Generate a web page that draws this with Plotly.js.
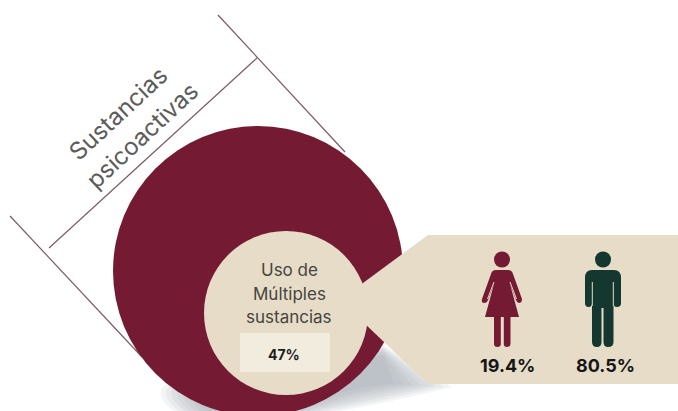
<!DOCTYPE html>
<html lang="es">
<head>
<meta charset="utf-8">
<script src="https://cdn.plot.ly/plotly-3.0.1.min.js"></script>
<style>html,body{margin:0;padding:0;background:#fff}#chart{width:678px;height:411px}</style>
</head>
<body>
<div id="chart"></div>
<script>
// Etiquetas y valores de la infografía
const outerLabel = ["Sustancias", "psicoactivas"];
const innerLabel = ["Uso de", "Múltiples", "sustancias"];
const multiUsePct = 47;
const womenPct = 19.4;
const menPct = 80.5;

const WINE = "#741b33", SAND = "#e6dcc8", PALE = "#f2ecdf", GREEN = "#14372f";
const LINE = "#7d5a64", FONT = "Inter, 'DejaVu Sans', sans-serif";

const circle = (cx, cy, r, fill) => ({type: "circle", xref: "x", yref: "y",
  x0: cx - r, x1: cx + r, y0: cy - r, y1: cy + r, fillcolor: fill, line: {width: 0}});
const seg = (x0, y0, x1, y1, color, width) => ({type: "line", xref: "x", yref: "y",
  x0, y0, x1, y1, line: {color, width}});
const path = (d, fill, opacity) => ({type: "path", xref: "x", yref: "y", path: d,
  fillcolor: fill, opacity: opacity === undefined ? 1 : opacity, line: {width: 0}});

// Sombra difusa: capas translúcidas cada vez más estrechas
const shadow = [];
[0, 5, 10, 15, 20, 25, 30, 36].forEach(k => {
  shadow.push(path(
    `M${383} ${345 + k * 0.3} L${452 - k * 1.6} ${387 - k * 0.1} Q${385 - k} ${404 - k * 0.5} ${300} ${418 - k * 0.3}` +
    ` L${185 + k} 418 Q${150 + k * 1.2} ${398} ${165 + k} ${385} Z`, "#9ea1ad", 0.12));
});

const woman = "M496 270 L508 270 Q512 270 513 274 L522 299 Q522 303 519 303 Q517 303 516 300 L510 284 L519 317 " +
  "L510.5 317 L510.5 344 Q510.5 347 507 347 Q503.8 347 503.8 344 L503.8 317 L500.8 317 L500.8 344 Q500.8 347 497.5 347 " +
  "Q494 347 494 344 L494 317 L485 317 L494 284 L488 300 Q487 303 484 303 Q481 303 482 299 L491 274 Q492 270 496 270 Z";
const man = "M592 270 L614 270 Q621 270 621 278 L621 303 Q621 307 617 307 Q613.5 307 613.5 303 L613.5 342 " +
  "Q613.5 347 608 347 Q603.5 347 603.5 342 L603.5 308 L601.5 308 L601.5 342 Q601.5 347 597 347 Q592 347 592 342 L592 303 " +
  "Q592 307 588.5 307 Q585 307 585 303 L585 278 Q585 270 592 270 Z";

const shapes = [
  ...shadow,
  // Corchete de medida alrededor del círculo
  seg(218, 15, 345, 152, LINE, 1.2),
  seg(10, 216, 142, 357, LINE, 1.2),
  seg(49, 248, 257, 58, LINE, 1.2),
  circle(258, 271, 145, WINE),
  // Recuadro con punta que sale del círculo interior
  path("M428 235 L678 235 L678 384 L428 384 L340 300 Z", SAND),
  circle(286, 313, 82, SAND),
  path("M240 333 L330 333 L330 372 L240 372 Z", PALE),
  // Pictogramas
  circle(502, 259.5, 8, WINE),
  path(woman, WINE),
  seg(494, 282, 487.5, 299, SAND, 1),
  seg(510, 282, 516.5, 299, SAND, 1),
  seg(502.3, 317, 502.3, 347, SAND, 1),
  circle(603, 259.5, 8, GREEN),
  path(man, GREEN),
  seg(592.3, 282, 592.3, 306, SAND, 1),
  seg(613.3, 282, 613.3, 306, SAND, 1)
];

const note = (text, x, y, size, color, extra) => Object.assign({
  text, x, y, xref: "x", yref: "y", showarrow: false, xanchor: "center", yanchor: "middle",
  font: {family: FONT, size, color}}, extra || {});

const annotations = [
  note(outerLabel[0], 118, 113, 24, "#5c5c5c", {textangle: -43}),
  note(outerLabel[1], 142, 135, 24, "#5c5c5c", {textangle: -43}),
  ...innerLabel.map((t, i) => note(t, 289, 270 + i * 23.5, 17, "#45443e")),
  note(`<b>${multiUsePct}%</b>`, 284, 354, 14, "#1d1d1b"),
  note(`<b>${womenPct}%</b>`, 507, 365, 18, "#151515"),
  note(`<b>${menPct}%</b>`, 605, 365, 18, "#151515")
];

const hidden = {visible: false, fixedrange: true, showgrid: false, zeroline: false};
Plotly.newPlot("chart", [], {
  width: 678, height: 411,
  margin: {l: 0, r: 0, t: 0, b: 0},
  paper_bgcolor: "#ffffff", plot_bgcolor: "#ffffff",
  xaxis: Object.assign({range: [0, 678]}, hidden),
  yaxis: Object.assign({range: [411, 0]}, hidden),
  shapes, annotations, showlegend: false
}, {displayModeBar: false, staticPlot: true});
</script>
</body>
</html>
